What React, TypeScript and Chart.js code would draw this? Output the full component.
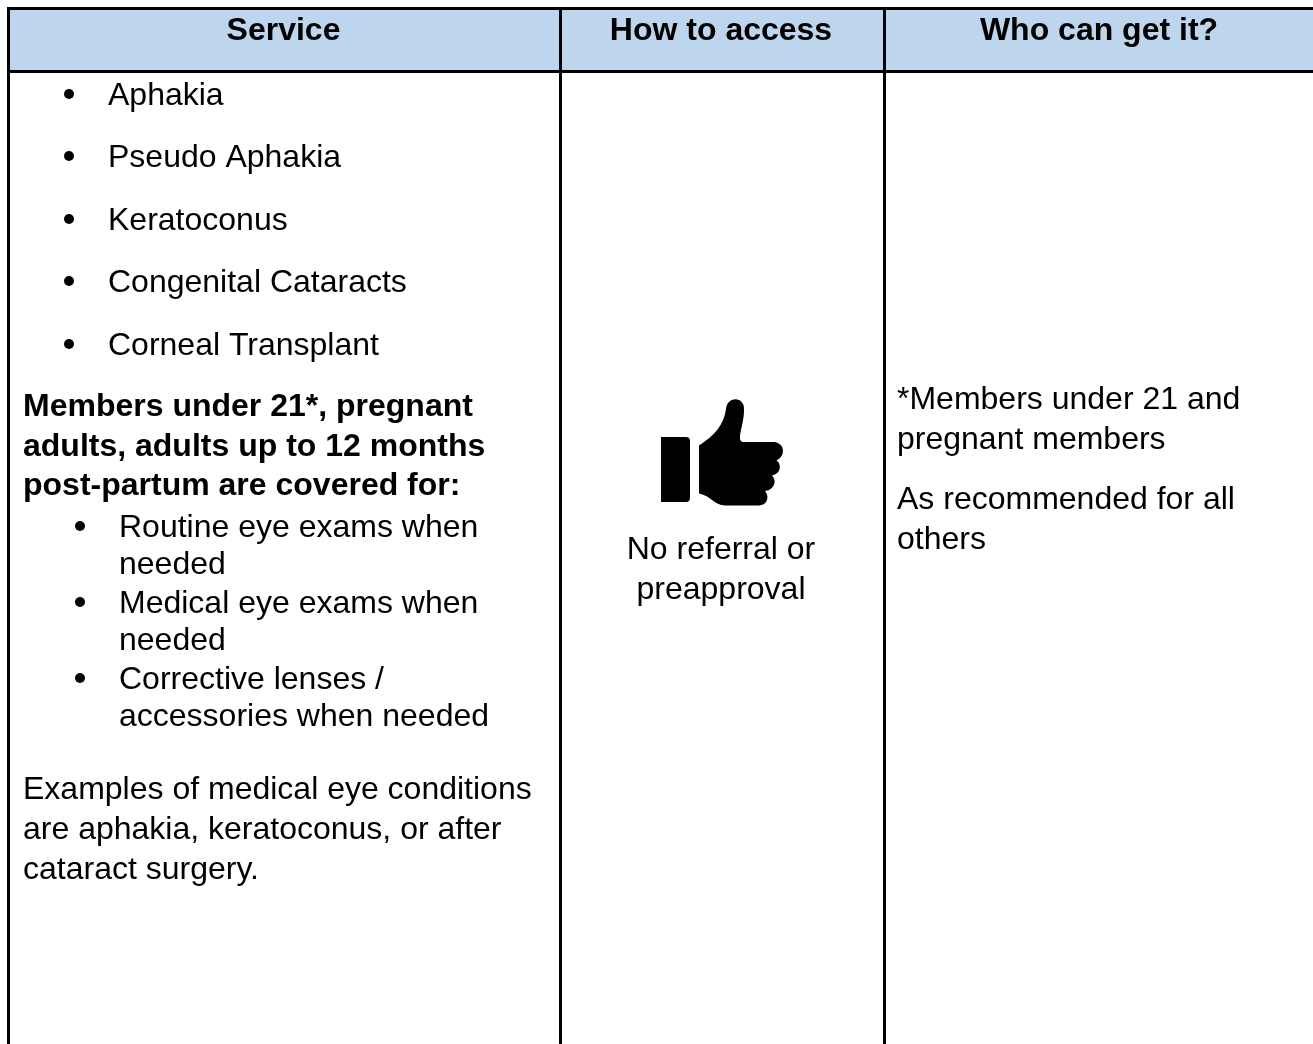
import React, { useEffect, useRef } from "react";
import { Chart, registerables } from "chart.js";

Chart.register(...registerables);

const headers = ["Service", "How to access", "Who can get it?"];
const conditions = ["Aphakia", "Pseudo Aphakia", "Keratoconus", "Congenital Cataracts", "Corneal Transplant"];
const boldLines = ["Members under 21*, pregnant", "adults, adults up to 12 months", "post-partum are covered for:"];
const coveredLines = ["Routine eye exams when", "needed", "Medical eye exams when", "needed", "Corrective lenses /", "accessories when needed"];
const exampleLines = ["Examples of medical eye conditions", "are aphakia, keratoconus, or after", "cataract surgery."];
const accessLines = ["No referral or", "preapproval"];
const whoLines = ["*Members under 21 and", "pregnant members", "As recommended for all", "others"];

const FONT = '"Liberation Sans", Arial, sans-serif';
const SIZE = 32;

function text(ctx: CanvasRenderingContext2D, s: string, x: number, y: number, bold = false, align: CanvasTextAlign = "left", size = SIZE) {
  ctx.font = `${bold ? "bold " : ""}${size}px ${FONT}`;
  ctx.textAlign = align;
  ctx.textBaseline = "alphabetic";
  ctx.fillStyle = "#000";
  ctx.fillText(s, x, y);
}

const tablePlugin = {
  id: "table",
  beforeDatasetsDraw(chart: any) {
    const { ctx } = chart;
    const X = (v: number) => chart.scales.x.getPixelForValue(v);
    const Y = (v: number) => chart.scales.y.getPixelForValue(v);
    ctx.save();
    ctx.fillStyle = "#fff";
    ctx.fillRect(0, 0, 1313, 1044);
    ctx.fillStyle = "#BDD6EE";
    ctx.fillRect(X(7), Y(8), 1313 - X(7), Y(71) - Y(8));
    ctx.fillStyle = "#000";
    ctx.fillRect(X(7), Y(7), 1313 - X(7), 3);
    ctx.fillRect(X(7), Y(70), 1313 - X(7), 3);
    [7, 559, 883].forEach((c) => ctx.fillRect(X(c), Y(7), 3, 1044 - Y(7)));

    const centers = [283.5, 721, 1099];
    headers.forEach((h, i) => text(ctx, h, X(centers[i]), Y(40), true, "center"));

    const condY = [105, 167, 230, 292, 355];
    conditions.forEach((c, i) => {
      ctx.fillStyle = "#000";
      ctx.beginPath();
      ctx.arc(X(69), Y(condY[i] - 11), 5, 0, Math.PI * 2);
      ctx.fill();
      text(ctx, c, X(108), Y(condY[i]));
    });
    const boldY = [416, 456, 495];
    boldLines.forEach((c, i) => text(ctx, c, X(23), Y(boldY[i]), true));
    const covY = [537, 574, 613, 650, 689, 726];
    coveredLines.forEach((c, i) => {
      if (i % 2 === 0) {
        ctx.fillStyle = "#000";
        ctx.beginPath();
        ctx.arc(X(80), Y(covY[i] - 11), 5, 0, Math.PI * 2);
        ctx.fill();
      }
      text(ctx, c, X(119), Y(covY[i]));
    });
    const exY = [799, 839, 879];
    exampleLines.forEach((c, i) => text(ctx, c, X(23), Y(exY[i])));
    const accY = [559, 599];
    accessLines.forEach((c, i) => text(ctx, c, X(721), Y(accY[i]), false, "center"));
    const whoY = [409, 449, 509, 549];
    whoLines.forEach((c, i) => text(ctx, c, X(897), Y(whoY[i])));

    // thumbs-up icon
    ctx.fillStyle = "#000";
    ctx.beginPath();
    ctx.roundRect(X(661), Y(437), 29, 65, [0, 4, 4, 0]);
    ctx.fill();
    ctx.beginPath();
    ctx.moveTo(X(699), Y(445.5));
    ctx.bezierCurveTo(X(714), Y(436), X(724), Y(425), X(726), Y(409));
    ctx.bezierCurveTo(X(727), Y(396), X(745), Y(396), X(744), Y(410));
    ctx.bezierCurveTo(X(744), Y(420), X(741), Y(428), X(740), Y(436));
    ctx.bezierCurveTo(X(739.5), Y(440), X(741), Y(442), X(744), Y(442));
    ctx.lineTo(X(774), Y(442));
    ctx.bezierCurveTo(X(785), Y(443), X(786), Y(456), X(776.5), Y(460.5));
    ctx.bezierCurveTo(X(782), Y(464), X(781), Y(474), X(772), Y(475.5));
    ctx.bezierCurveTo(X(777), Y(480), X(775), Y(490), X(765), Y(491));
    ctx.bezierCurveTo(X(770), Y(497), X(767), Y(505.5), X(759), Y(505.5));
    ctx.lineTo(X(725), Y(505.5));
    ctx.bezierCurveTo(X(714), Y(505), X(711), Y(496), X(699), Y(493.5));
    ctx.closePath();
    ctx.fill();
    ctx.restore();
  },
};

export default function App() {
  const ref = useRef<HTMLCanvasElement>(null);
  useEffect(() => {
    document.body.style.margin = "0";
    const chart = new Chart(ref.current!, {
      type: "scatter",
      data: { datasets: [{ data: [], pointRadius: 0 }] },
      options: {
        animation: false,
        responsive: false,
        layout: { padding: 0 },
        plugins: { legend: { display: false }, tooltip: { enabled: false } },
        scales: {
          x: { type: "linear", min: 0, max: 1313, display: false },
          y: { type: "linear", min: 0, max: 1044, reverse: true, display: false },
        },
      },
      plugins: [tablePlugin],
    });
    return () => chart.destroy();
  }, []);
  return <canvas ref={ref} width={1313} height={1044} style={{ display: "block", width: 1313, height: 1044 }} />;
}
